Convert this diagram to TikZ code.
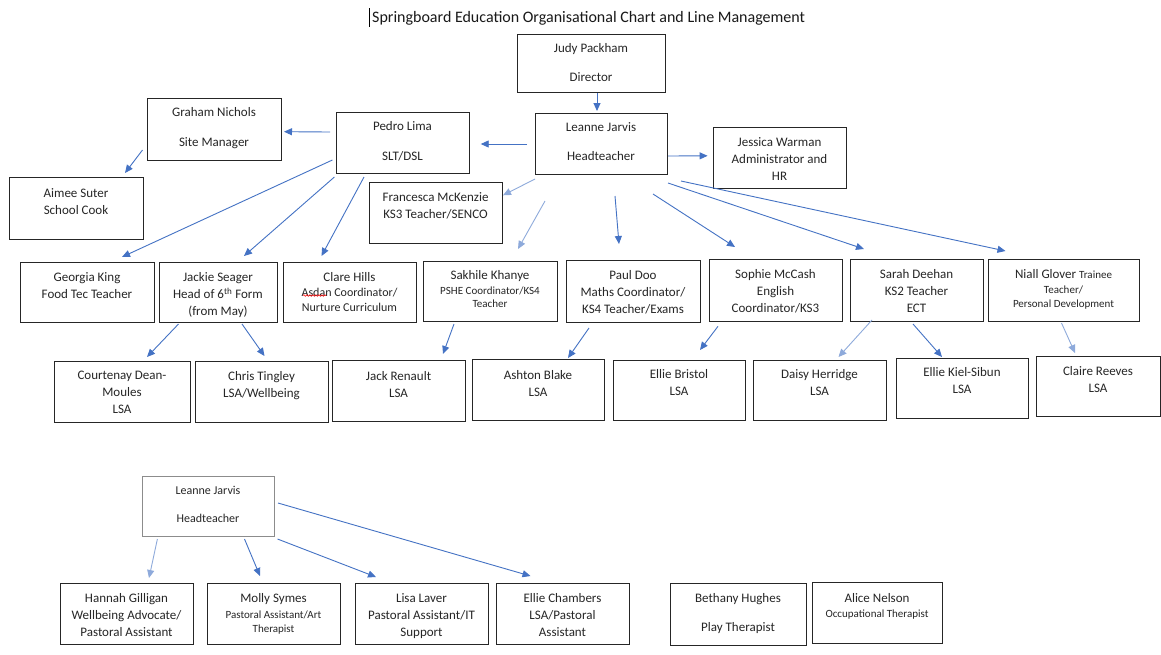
\documentclass[tikz,border=0pt]{standalone}
\usepackage{fontspec}
\setmainfont{Carlito}
\usetikzlibrary{calc,arrows.meta,decorations.pathmorphing}
\newcommand{\fs}[2]{\fontsize{#1}{#2}\selectfont}
\newcommand{\obox}[6][box]{\node[#1, minimum width={#5-#3}, minimum height={#6-#4}] (#2) at ({(#3+#5)/2},{(#4+#6)/2}) {};}
\newcommand{\otext}[4][]{\node[lbl,#1] (#2-t) at ($(#2.north)+(0,#3+3.7)$) {#4};}
\definecolor{arrblue}{HTML}{4472C4}
\definecolor{arrlight}{HTML}{8EAADB}
\tikzset{
  box/.style={draw=black!85, line width=0.9pt, inner sep=0pt, outer sep=0pt, fill=white},
  graybox/.style={box, draw=black!45},
  lbl/.style={anchor=north, inner sep=0pt, align=center, font=\fs{13}{17}, text=black!85, execute at begin node=\strut},
  arr/.style={draw=arrblue, line width=0.9pt, -{Triangle[length=8pt,width=7pt]}},
  arrl/.style={arr, draw=arrlight},
}
\begin{document}
\begin{tikzpicture}[x=1pt,y=-1pt]
\path[fill=white, use as bounding box] (0,0) rectangle (1161,654);
% title
\draw[black, line width=0.6pt] (369,8) -- (369,27);
\node[anchor=west, inner sep=0pt, font=\fs{16}{19}, text=black!90] (title) at (372,18.5) {Springboard Education Organisational Chart and Line Management};
% top boxes
\obox{judy}{517}{34}{665}{92}
\otext{judy}{5.6}{Judy Packham\\[12pt]Director}
\obox{leanne}{535}{113}{667}{174}
\otext{leanne}{5.6}{Leanne Jarvis\\[12pt]Headteacher}
\obox{pedro}{336}{112}{469}{173}
\otext{pedro}{5.6}{Pedro Lima\\[13pt]SLT/DSL}
\obox{graham}{147}{98}{281}{160}
\otext{graham}{5.2}{Graham Nichols\\[13pt]Site Manager}
\obox{aimee}{9}{177}{143}{239}
\otext{aimee}{7.6}{Aimee Suter\\School Cook}
\obox{jessica}{713}{127}{846}{188}
\otext{jessica}{6.6}{Jessica Warman\\Administrator and\\HR}
\obox{francesca}{369}{182}{502}{243}
\otext{francesca}{6.6}{Francesca McKenzie\\KS3 Teacher/SENCO}
% row 2
\obox{georgia}{20}{262}{154}{322}
\otext{georgia}{6.6}{Georgia King\\Food Tec Teacher}
\obox{jackie}{159}{262}{277}{322}
\otext{jackie}{6.6}{Jackie Seager\\Head of 6\textsuperscript{th} Form\\(from May)}
\obox{clare}{283}{262}{416}{322}
\otext{clare}{6.6}{Clare Hills\\[-2pt]{\fs{12}{15}Asdan Coordinator/}\\[-2pt]{\fs{12}{15}Nurture Curriculum}}
\obox{sakhile}{423}{261}{557}{321}
\otext{sakhile}{5.6}{Sakhile Khanye\\[-2pt]{\fs{11}{14}PSHE Coordinator/KS4}\\[-4pt]{\fs{11}{14}Teacher}}
\obox{paul}{566}{260}{700}{322}
\otext{paul}{6.6}{Paul Doo\\Maths Coordinator/\\KS4 Teacher/Exams}
\obox{sophie}{709}{259}{842}{321}
\otext{sophie}{6.6}{Sophie McCash\\English\\Coordinator/KS3}
\obox{sarah}{850}{259}{983}{321}
\otext{sarah}{6.6}{Sarah Deehan\\KS2 Teacher\\ECT}
\obox{niall}{988}{259}{1139}{321}
\otext{niall}{7.0}{Niall Glover {\fs{11}{14}Trainee}\\[-2pt]{\fs{11}{14}Teacher/}\\[-3pt]{\fs{11}{14}Personal Development}}
% row 3
\obox{courtenay}{54}{361}{190}{422}
\otext{courtenay}{6.6}{Courtenay Dean-\\Moules\\LSA}
\obox{chris}{195}{361}{328}{422}
\otext{chris}{6.6}{Chris Tingley\\LSA/Wellbeing}
\obox{jack}{332}{360}{465}{421}
\otext{jack}{7.6}{Jack Renault\\LSA}
\obox{ashton}{472}{359}{604}{420}
\otext{ashton}{7.6}{Ashton Blake\\LSA}
\obox{ellieb}{613}{360}{745}{420}
\otext{ellieb}{5.6}{Ellie Bristol\\LSA}
\obox{daisy}{753}{360}{886}{420}
\otext{daisy}{5.6}{Daisy Herridge\\LSA}
\obox{elliek}{896}{358}{1028}{418}
\otext{elliek}{5.6}{Ellie Kiel-Sibun\\LSA}
\obox{claire}{1036}{356}{1160}{416}
\otext{claire}{6.6}{Claire Reeves\\LSA}
% bottom section
\obox[graybox]{leanne2}{142}{476}{274}{536}
\otext[font=\fs{12}{16}]{leanne2}{6.7}{Leanne Jarvis\\[12pt]Headteacher}
\obox{hannah}{60}{583}{193}{644}
\otext{hannah}{6.6}{Hannah Gilligan\\Wellbeing Advocate/\\Pastoral Assistant}
\obox{molly}{207}{583}{340}{644}
\otext{molly}{6.6}{Molly Symes\\[-1pt]{\fs{11}{14}Pastoral Assistant/Art}\\[-3pt]{\fs{11}{14}Therapist}}
\obox{lisa}{355}{583}{488}{644}
\otext{lisa}{6.6}{Lisa Laver\\Pastoral Assistant/IT\\Support}
\obox{elliec}{496}{583}{629}{644}
\otext{elliec}{6.6}{Ellie Chambers\\LSA/Pastoral\\Assistant}
\obox{bethany}{670}{583}{806}{645}
\otext{bethany}{6.6}{Bethany Hughes\\[12pt]Play Therapist}
\obox{alice}{812}{582}{942}{643}
\otext{alice}{7.6}{Alice Nelson\\[-2pt]{\fs{11}{14}Occupational Therapist}}
% spell-check underline
\draw[red, line width=0.6pt, decorate, decoration={snake, amplitude=0.8pt, segment length=3pt}] (303,295.5) -- (326,295.5);
% arrows
\draw[arr] ($(judy.south)+(6,1)$) -- ($(leanne.north)+(-4,-2)$);
\draw[arr] ($(leanne.west)+(-8,0.5)$) -- ($(pedro.east)+(11.7,1.5)$);
\draw[arr] ($(pedro.west)+(-6,-10.5)$) -- ($(graham.east)+(3,2.7)$);
\draw[arr] ($(graham.south west)+(-4.5,-10)$) -- ($(aimee.north east)+(-18,-4)$);
\draw[arr] ($(leanne.east)+(1,12.5)$) -- ($(jessica.west)+(-5.4,-1.7)$);
\draw[arrl] ($(leanne.south west)+(0,5)$) -- ($(francesca.north east)+(1,13.3)$);
\draw[arr] ($(pedro.south west)+(-3.6,-13)$) -- ($(georgia.north)+(35,-5)$);
\draw[arr] ($(pedro.south west)+(-1.6,4)$) -- ($(jackie.north)+(26,-6)$);
\draw[arr] ($(pedro.south)+(-38.5,4)$) -- ($(clare.north)+(-28,-6)$);
\draw[arrl] ($(leanne.south)+(-56,27)$) -- ($(sakhile.north)+(28,-12)$);
\draw[arr] ($(leanne.south)+(14,22)$) -- ($(paul.north)+(-14,-16)$);
\draw[arr] ($(leanne.south)+(52,20)$) -- ($(sophie.north)+(-40.5,-12)$);
\draw[arr] ($(leanne.south east)+(1,9)$) -- ($(sarah.north)+(-52.5,-10)$);
\draw[arr] ($(leanne.south east)+(14,7)$) -- ($(niall.north)+(-58,-8)$);
\draw[arr] ($(jackie.south)+(-39.5,2)$) -- ($(courtenay.north)+(25,-4)$);
\draw[arr] ($(jackie.south)+(24,2)$) -- ($(chris.north)+(3,-5)$);
\draw[arr] ($(sakhile.south)+(-36,3)$) -- ($(jack.north)+(44.5,-6)$);
\draw[arr] ($(paul.south)+(-44,6)$) -- ($(ashton.north)+(30,-1)$);
\draw[arr] ($(sophie.south)+(-57.5,5.3)$) -- ($(ellieb.north)+(21,-10)$);
\draw[arrl] ($(sarah.south)+(-44.5,-1)$) -- ($(daisy.north)+(19,-3)$);
\draw[arr] ($(sarah.south)+(-3.5,3)$) -- ($(elliek.north)+(-20,-1)$);
\draw[arrl] ($(niall.south)+(-2,2)$) -- ($(claire.north)+(-23,-3)$);
\draw[arrl] ($(leanne2.south west)+(15.4,3)$) -- ($(hannah.north)+(22.5,-5)$);
\draw[arr] ($(leanne2.south)+(36.5,3)$) -- ($(molly.north)+(-13.5,-7)$);
\draw[arr] ($(leanne2.south east)+(3.5,3)$) -- ($(lisa.north)+(-45.5,-6)$);
\draw[arr] ($(leanne2.east)+(4,-3)$) -- ($(elliec.north)+(-32,-7)$);
\end{tikzpicture}
\end{document}
